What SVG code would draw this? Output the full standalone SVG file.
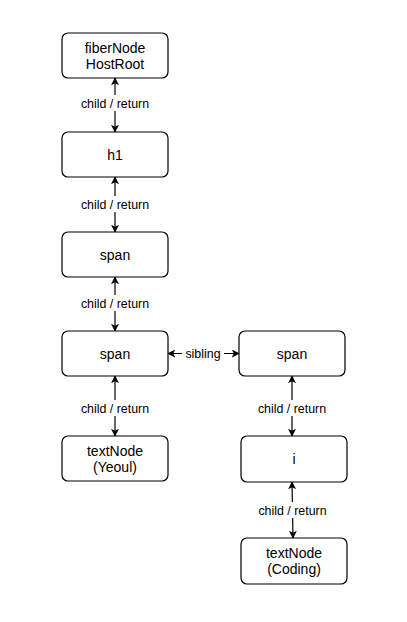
<svg xmlns="http://www.w3.org/2000/svg" width="407" height="622" viewBox="0 0 407 622">
<style>
.box{fill:#fff;stroke:#000;stroke-width:1.2}
.t{font-family:"Liberation Sans",Arial,sans-serif;font-size:14px;fill:#000;text-anchor:middle}
.l{font-family:"Liberation Sans",Arial,sans-serif;font-size:12.4px;fill:#000;text-anchor:middle}
.c{stroke:#000;stroke-width:1.2;fill:none;marker-start:url(#a);marker-end:url(#a)}
.bg{fill:#fff}
</style>
<defs>
<marker id="a" viewBox="0 0 10 10" refX="9" refY="5" markerWidth="8" markerHeight="8" markerUnits="userSpaceOnUse" orient="auto-start-reverse">
<path d="M0,0 L10,5 L0,10 L2.5,5 Z" fill="#000"/>
</marker>
</defs>
<rect width="407" height="622" fill="#fff"/>
<g id="connectors">
<path class="c" d="M115,78 L115,132"/>
<path class="c" d="M115,177 L115,232"/>
<path class="c" d="M115,277 L115,331"/>
<path class="c" d="M115,376 L115,436"/>
<path class="c" d="M168,353.5 L239,353.5"/>
<path class="c" d="M292,376 L292,436"/>
<path class="c" d="M292,482 L293,538"/>
<rect class="bg" x="80" y="95" width="70" height="16"/>
<text class="l" x="115" y="107.5">child / return</text>
<rect class="bg" x="80" y="196" width="70" height="16"/>
<text class="l" x="115" y="208.5">child / return</text>
<rect class="bg" x="80" y="295" width="70" height="16"/>
<text class="l" x="115" y="307.5">child / return</text>
<rect class="bg" x="80" y="400" width="70" height="16"/>
<text class="l" x="115" y="412.5">child / return</text>
<rect class="bg" x="182" y="346" width="42" height="16"/>
<text class="l" x="203" y="358">sibling</text>
<rect class="bg" x="257" y="400" width="70" height="16"/>
<text class="l" x="292" y="412.5">child / return</text>
<rect class="bg" x="257" y="502" width="70" height="16"/>
<text class="l" x="292.5" y="514.5">child / return</text>
</g>
<g id="hostroot"><rect class="box" x="62" y="33" width="106" height="45" rx="6"/><text class="t" x="115" y="53">fiberNode</text><text class="t" x="115" y="69">HostRoot</text></g>
<g id="h1"><rect class="box" x="62" y="132" width="106" height="45" rx="6"/><text class="t" x="115" y="159.5">h1</text></g>
<g id="span1"><rect class="box" x="62" y="232" width="106" height="45" rx="6"/><text class="t" x="115" y="259.5">span</text></g>
<g id="span2"><rect class="box" x="62" y="331" width="106" height="45" rx="6"/><text class="t" x="115" y="358.5">span</text></g>
<g id="textYeoul"><rect class="box" x="62" y="436" width="106" height="45" rx="6"/><text class="t" x="115" y="456">textNode</text><text class="t" x="115" y="472">(Yeoul)</text></g>
<g id="span3"><rect class="box" x="239" y="331" width="106" height="45" rx="6"/><text class="t" x="292" y="358.5">span</text></g>
<g id="i"><rect class="box" x="241" y="436" width="106" height="46" rx="6"/><text class="t" x="294" y="464">i</text></g>
<g id="textCoding"><rect class="box" x="241" y="538" width="106" height="46" rx="6"/><text class="t" x="294" y="558">textNode</text><text class="t" x="294" y="574">(Coding)</text></g>
</svg>
